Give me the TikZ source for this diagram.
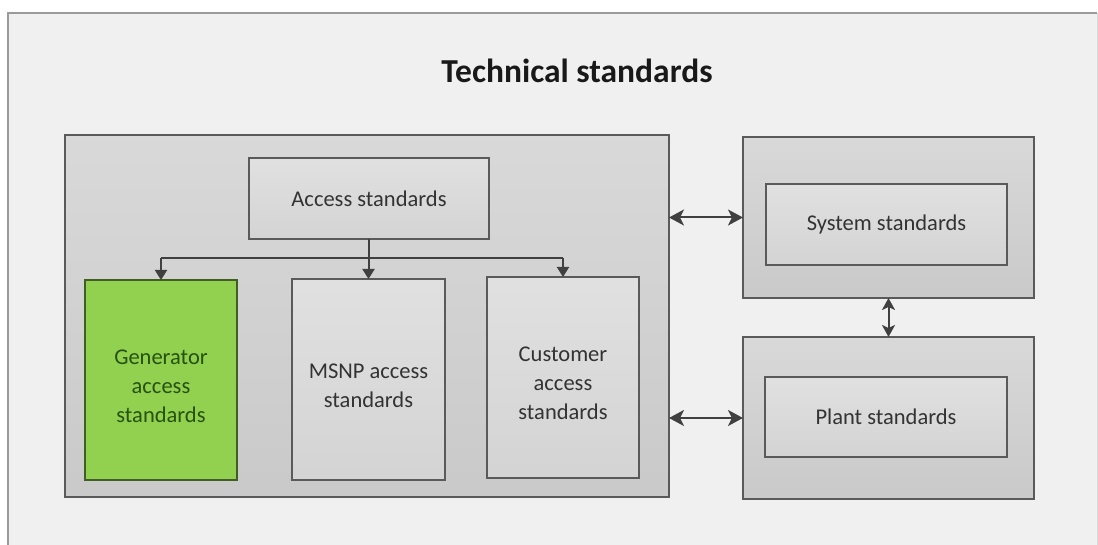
\documentclass[tikz,border=0pt]{standalone}
\usepackage{fontspec}
\setmainfont{Carlito}
\usetikzlibrary{arrows.meta,calc}
\definecolor{framegray}{HTML}{9A9A9A}
\definecolor{bggray}{HTML}{F0F0F0}
\definecolor{boxline}{HTML}{5A5A5A}
\definecolor{arrowcol}{HTML}{404040}
\definecolor{gengreen}{HTML}{92D050}
\definecolor{gentext}{HTML}{27520C}
\definecolor{bodytext}{HTML}{333333}
\tikzset{
  outerbox/.style={draw=boxline, line width=1.9pt, top color=black!15, bottom color=black!21, inner sep=0pt, outer sep=0pt},
  innerbox/.style={draw=boxline, line width=1.9pt, top color=black!12, bottom color=black!17, inner sep=0pt, outer sep=0pt, text=bodytext, font=\fontsize{22.5}{29}\selectfont, align=center},
  greenbox/.style={draw=black!55!gengreen, line width=1.9pt, fill=gengreen, inner sep=0pt, outer sep=0pt},
  boxlabel/.style={font=\fontsize{22.5}{29}\selectfont, align=center, text=bodytext, inner sep=0pt},
  conn/.style={draw=arrowcol, line width=2pt},
  downarr/.style={conn, -{Triangle[width=12pt,length=10pt]}},
  dblarr/.style={conn, {Stealth[width=16pt,length=15pt,inset=4pt]}-{Stealth[width=16pt,length=15pt,inset=4pt]}},
  smalldbl/.style={conn, {Stealth[width=13pt,length=12pt,inset=3pt]}-{Stealth[width=13pt,length=12pt,inset=3pt]}}
}
\begin{document}
\begin{tikzpicture}[x=1pt,y=-1pt]
\useasboundingbox (0,0) rectangle (1098,545);
\fill[white] (0,0) rectangle (1098,545);
% outer frame
\fill[bggray] (8,13) rectangle (1097,545);
\draw[black!15, line width=1pt] (1097,13) -- (1097,545);
\draw[framegray, line width=2.4pt] (8,545) -- (8,13) -- (1097,13);
% title
\node[anchor=base, font=\fontsize{33.5}{40}\selectfont\bfseries, text=black!90, inner sep=0pt] (title) at (577,83) {Technical standards};
% big left box
\node[outerbox, minimum width=604pt, minimum height=362pt] (big) at (367,316) {};
% access standards
\node[innerbox, minimum width=240pt, minimum height=81pt] (acc) at (369,198.5) {Access standards};
% three children
\node[greenbox, minimum width=152pt, minimum height=200pt] (gen) at (161,380) {};
\node[boxlabel, text=gentext] (genT) at (161,386) {Generator\\access\\standards};
\node[innerbox, minimum width=153pt, minimum height=201pt] (msnp) at (368.5,379.5) {};
\node[boxlabel] (msnpT) at (368.5,386) {MSNP access\\standards};
\node[innerbox, minimum width=152pt, minimum height=201pt] (cus) at (563,377.5) {};
\node[boxlabel] (cusT) at (563,383.5) {Customer\\access\\standards};
% right boxes
\node[outerbox, minimum width=291pt, minimum height=161pt] (sysout) at (888.5,217.5) {};
\node[innerbox, minimum width=241pt, minimum height=81pt] (sys) at (886.5,224.5) {System standards};
\node[outerbox, minimum width=291pt, minimum height=162pt] (plantout) at (888.5,418) {};
\node[innerbox, minimum width=242pt, minimum height=80pt] (plant) at (886,417) {Plant standards};
% bus
\coordinate (bus) at (0,258);
\draw[conn] (acc.south) -- (acc.south |- bus);
\draw[conn] (gen.north |- bus) -- (cus.north |- bus);
\draw[downarr] (gen.north |- bus) -- (gen.north);
\draw[downarr] (msnp.north |- bus) -- (msnp.north);
\draw[downarr] (cus.north |- bus) -- (cus.north);
% double arrows
\draw[dblarr] (sysout.west -| big.east) -- (sysout.west);
\draw[dblarr] (plantout.west -| big.east) -- (plantout.west);
\draw[smalldbl] (sysout.south) -- (plantout.north);
\end{tikzpicture}
\end{document}
